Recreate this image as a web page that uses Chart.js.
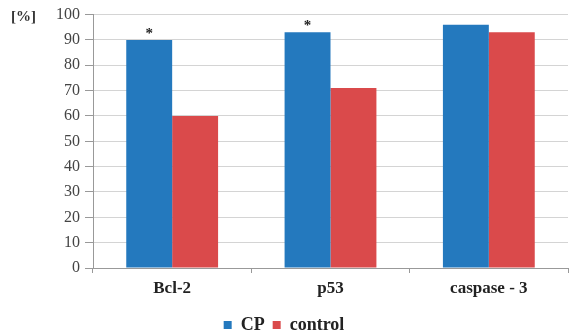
<!DOCTYPE html>
<html>
<head>
<meta charset="utf-8">
<script src="https://cdn.jsdelivr.net/npm/chart.js@4"></script>
<style>
  html, body { margin: 0; padding: 0; background: #fff; }
  #wrap { width: 569px; height: 334px; }
</style>
</head>
<body>
<div id="wrap"><canvas id="chart"></canvas></div>
<script>
const categories = ['Bcl-2', 'p53', 'caspase - 3']
const cpValues = [90, 93, 96]
const controlValues = [60, 71, 93]
const cpMarks = ['*', '*', ''] // significance marks over CP bars
const yTicks = [0, 10, 20, 30, 40, 50, 60, 70, 80, 90, 100]

const SERIF = "'Liberation Serif', 'DejaVu Serif', serif"

// draws "[%]" and the asterisks over the bars
const extras = {
  id: 'extras',
  afterDatasetsDraw(chart) {
    const ctx = chart.ctx
    ctx.save()
    ctx.fillStyle = '#333'
    ctx.font = 'bold 15px ' + SERIF
    ctx.textAlign = 'left'
    ctx.textBaseline = 'middle'
    ctx.fillText('[%]', 11, 17)

    ctx.fillStyle = '#222'
    ctx.font = 'bold 15px ' + SERIF
    ctx.textAlign = 'center'
    ctx.textBaseline = 'alphabetic'
    chart.getDatasetMeta(0).data.forEach((bar, i) => {
      if (cpMarks[i]) ctx.fillText(cpMarks[i], bar.x, bar.y - 2)
    })
    ctx.restore()
  }
}

new Chart(document.getElementById('chart'), {
  type: 'bar',
  data: {
    labels: categories,
    datasets: [{
      label: 'CP',
      data: cpValues,
      backgroundColor: '#2479be'
    }, {
      label: 'control',
      data: controlValues,
      backgroundColor: '#da4a4b'
    }]
  },
  options: {
    responsive: true,
    maintainAspectRatio: false,
    animation: false,
    layout: { padding: { top: 6, right: 1, left: 0, bottom: -10 } },
    datasets: { bar: { categoryPercentage: 0.58, barPercentage: 1.0 } },
    plugins: {
      tooltip: { enabled: false },
      legend: {
        position: 'bottom',
        labels: {
          color: '#222',
          font: { family: SERIF, size: 18, weight: 'bold' },
          boxWidth: 8,
          boxHeight: 8,
          padding: 8
        }
      }
    },
    scales: {
      x: {
        afterFit: (scale) => { scale.height = 40 },
        grid: { display: true, drawOnChartArea: false, offset: true, tickLength: 5, color: '#999' },
        border: { color: '#999' },
        ticks: { color: '#222', font: { family: SERIF, size: 17, weight: 'bold' }, padding: 5 }
      },
      y: {
        min: 0,
        max: 100,
        afterBuildTicks: (scale) => { scale.ticks = yTicks.map(v => ({ value: v })) },
        afterFit: (scale) => { scale.width = 93 },
        grid: { color: '#d4d4d4', lineWidth: 1, tickLength: 8, tickColor: '#999' },
        border: { color: '#999' },
        ticks: { color: '#444', font: { family: SERIF, size: 16 }, padding: 5 }
      }
    }
  },
  plugins: [extras]
})
</script>
</body>
</html>
